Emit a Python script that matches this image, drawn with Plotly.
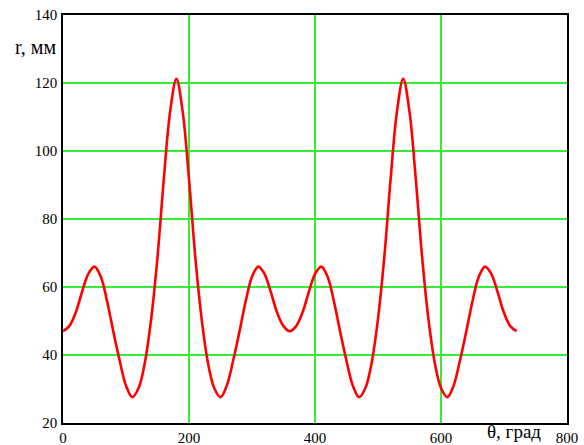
import plotly.graph_objects as go

# Cam radius r (mm) versus rotation angle theta (degrees), two full turns
theta_deg = [
    0, 10, 20, 30, 40, 50, 60, 70, 80, 90, 100, 110, 120, 130, 140, 150, 160, 170, 180,
    190, 200, 210, 220, 230, 240, 250, 260, 270, 280, 290, 300, 310, 320, 330, 340, 350, 360,
    370, 380, 390, 400, 410, 420, 430, 440, 450, 460, 470, 480, 490, 500, 510, 520, 530, 540,
    550, 560, 570, 580, 590, 600, 610, 620, 630, 640, 650, 660, 670, 680, 690, 700, 710, 720,
]
radius_mm = [
    47.0, 48.5, 52.4, 58.4, 63.8, 66.0, 63.0, 55.8, 46.8, 38.3, 31.0, 27.6, 30.3, 37.8, 50.7, 68.8, 91.7, 111.5, 121.2,
    111.5, 91.7, 68.8, 50.7, 37.8, 30.3, 27.6, 31.0, 38.3, 46.8, 55.8, 63.0, 66.0, 63.8, 58.4, 52.4, 48.5, 47.0,
    48.5, 52.4, 58.4, 63.8, 66.0, 63.0, 55.8, 46.8, 38.3, 31.0, 27.6, 30.3, 37.8, 50.7, 68.8, 91.7, 111.5, 121.2,
    111.5, 91.7, 68.8, 50.7, 37.8, 30.3, 27.6, 31.0, 38.3, 46.8, 55.8, 63.0, 66.0, 63.8, 58.4, 52.4, 48.5, 47.0,
]

x_ticks = [0, 200, 400, 600, 800]
y_ticks = [20, 40, 60, 80, 100, 120, 140]

serif = "Liberation Serif"

fig = go.Figure(
    go.Scatter(
        x=theta_deg,
        y=radius_mm,
        mode="lines",
        line=dict(color="#ff0000", width=2.6, shape="spline", smoothing=1.0),
        hoverinfo="skip",
    )
)

axis_style = dict(
    showgrid=True,
    gridcolor="#33ee33",
    gridwidth=1.5,
    zeroline=False,
    showline=True,
    linecolor="black",
    linewidth=1.5,
    mirror=True,
    ticks="",
    automargin=False,
    tickfont=dict(family=serif, size=15, color="black"),
)

fig.update_xaxes(
    range=[0, 800],
    tickvals=x_ticks,
    ticktext=[str(v) for v in x_ticks],
    **axis_style,
)
fig.update_yaxes(
    range=[20, 140],
    tickvals=y_ticks,
    ticktext=[str(v) for v in y_ticks],
    ticklabelstandoff=1,
    **axis_style,
)

fig.add_annotation(
    text="r, мм", xref="paper", yref="paper", x=0, y=0.9216,
    xanchor="right", yanchor="middle", xshift=-4, showarrow=False,
    font=dict(family=serif, size=20, color="black"),
)
fig.add_annotation(
    text="θ, град", xref="paper", yref="paper", x=0.837, y=-0.0515,
    xanchor="left", yanchor="bottom", showarrow=False,
    font=dict(family=serif, size=19, color="black"),
)

fig.update_layout(
    width=584,
    height=445,
    margin=dict(l=63, r=17, t=15, b=22),
    font=dict(family=serif, color="black"),
    paper_bgcolor="white",
    plot_bgcolor="white",
    showlegend=False,
)

fig.write_html("out.html")
